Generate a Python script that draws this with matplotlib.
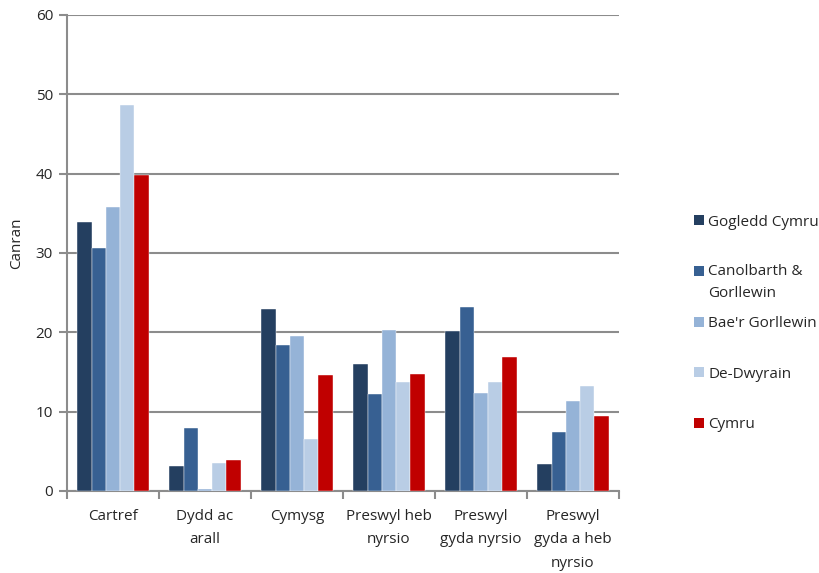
import matplotlib
matplotlib.use("Agg")
import matplotlib.pyplot as plt
from matplotlib.patches import Rectangle
import numpy as np

categories = ["Cartref", "Dydd ac\narall", "Cymysg", "Preswyl heb\nnyrsio",
              "Preswyl\ngyda nyrsio", "Preswyl\ngyda a heb\nnyrsio"]
series_names = ["Gogledd Cymru", "Canolbarth &\nGorllewin", "Bae'r Gorllewin",
                "De-Dwyrain", "Cymru"]
gogledd = [33.9, 3.1, 23.0, 16.0, 20.2, 3.4]
canolbarth = [30.6, 8.0, 18.4, 12.2, 23.2, 7.4]
bae = [35.8, 0.25, 19.5, 20.3, 12.4, 11.4]
de_dwyrain = [48.7, 3.5, 6.5, 13.7, 13.8, 13.2]
cymru = [39.8, 3.9, 14.6, 14.8, 16.9, 9.5]
series = [gogledd, canolbarth, bae, de_dwyrain, cymru]
colors = ["#243F60", "#376092", "#95B3D7", "#B9CDE5", "#C00000"]

plt.rcParams['font.family'] = ['Open Sans', 'DejaVu Sans']
TXT = "#262626"

W, H = 819, 573
fig = plt.figure(figsize=(W / 100, H / 100), dpi=100)
ax = fig.add_axes([67 / W, 1 - 491 / H, 552 / W, 476 / H])

x = np.arange(len(categories))
w = 0.155
for i, (vals, c, name) in enumerate(zip(series, colors, series_names)):
    ax.bar(x + (i - 2) * w, vals, width=w, color=c, label=name,
           edgecolor="white", linewidth=0.3, zorder=3)

ax.set_xlim(-0.5, len(categories) - 0.5)
ax.set_ylim(0, 60)
ax.set_yticks(range(0, 61, 10))
ax.yaxis.grid(True, color="#8C8C8C", linewidth=1.5, zorder=0)
ax.set_axisbelow(True)

for s in ["top", "right"]:
    ax.spines[s].set_visible(False)
for s in ["left", "bottom"]:
    ax.spines[s].set_color("#8C8C8C")
    ax.spines[s].set_linewidth(1.5)

ax.set_xticks(x)
ax.set_xticklabels(categories, fontsize=11, color=TXT, linespacing=1.75)
ax.tick_params(axis="x", which="major", length=0, pad=13)
ax.set_xticks(np.arange(-0.5, len(categories), 1), minor=True)
ax.tick_params(axis="x", which="minor", length=6, width=1.5, color="#8C8C8C")
ax.tick_params(axis="y", length=6, width=1.5, color="#8C8C8C", labelsize=11,
               labelcolor=TXT, pad=4)

ax.set_ylabel("Canran", fontsize=11, color=TXT)
ax.yaxis.set_label_coords(-0.078, 0.52)

# legend, drawn by hand to mimic the spacing of the original
sq = 10
line_px = 21
for i, (c, name) in enumerate(zip(colors, series_names)):
    yc = 220 + 50.75 * i
    nlines = name.count("\n") + 1
    fig.add_artist(Rectangle((694 / W, 1 - (yc + sq / 2) / H), sq / W, sq / H,
                             transform=fig.transFigure, facecolor=c,
                             edgecolor="none"))
    fig.text(708 / W, 1 - (yc + 5.5 + line_px * (nlines - 1)) / H, name,
             fontsize=11, color=TXT, va="baseline", ha="left",
             linespacing=1.67)

fig.savefig("out.png", dpi=100)
